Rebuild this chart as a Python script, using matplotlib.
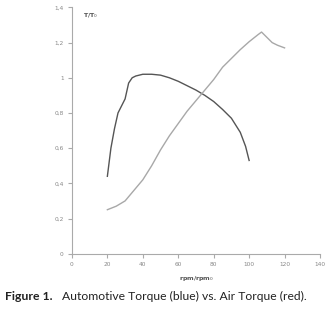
import matplotlib.pyplot as plt

# rpm / rpm0 vs T / T0
auto_rpm = [20, 22, 24, 26, 28, 30, 32, 34, 36, 40, 45, 50, 55, 60, 65, 70,
            75, 80, 85, 90, 95, 98, 100]
auto_torque = [0.44, 0.60, 0.71, 0.80, 0.84, 0.88, 0.97, 1.00, 1.01, 1.02,
               1.02, 1.015, 1.00, 0.98, 0.955, 0.93, 0.90, 0.865, 0.82, 0.77,
               0.69, 0.61, 0.53]

air_rpm = [20, 25, 30, 35, 40, 45, 50, 55, 60, 65, 70, 75, 80, 85, 90, 95,
           100, 105, 107, 110, 113, 116, 120]
air_torque = [0.25, 0.27, 0.30, 0.36, 0.42, 0.50, 0.59, 0.67, 0.74, 0.81,
              0.87, 0.93, 0.99, 1.06, 1.11, 1.16, 1.205, 1.245, 1.26, 1.23,
              1.20, 1.185, 1.17]

x_ticks = [0, 20, 40, 60, 80, 100, 120, 140]
y_ticks = [0, 0.2, 0.4, 0.6, 0.8, 1.0, 1.2, 1.4]
y_tick_labels = ["0", "0,2", "0,4", "0,6", "0,8", "1", "1,2", "1,4"]

caption_bold = "Figure 1."
caption_text = "Automotive Torque (blue) vs. Air Torque (red)."

fig = plt.figure(figsize=(3.33, 3.09), dpi=100)
ax = fig.add_axes([0.216, 0.179, 0.745, 0.797])

ax.plot(auto_rpm, auto_torque, color="#555555", linewidth=1.0)
ax.plot(air_rpm, air_torque, color="#a8a8a8", linewidth=1.0)

ax.set_xlim(0, 140)
ax.set_ylim(0, 1.4)
ax.set_xticks(x_ticks)
ax.set_yticks(y_ticks)
ax.set_yticklabels(y_tick_labels)

for side in ("top", "right"):
    ax.spines[side].set_visible(False)
for side in ("left", "bottom"):
    ax.spines[side].set_color("#aaaaaa")
    ax.spines[side].set_linewidth(0.8)
ax.tick_params(colors="#aaaaaa", length=3, width=0.8, labelsize=4.2,
               labelcolor="#888888", pad=3)

ax.text(0.045, 0.985, "T/T$_0$", transform=ax.transAxes, fontsize=4.5,
        fontweight="bold", color="#555555", va="top", ha="left")
ax.set_xlabel("rpm/rpm$_0$", fontsize=4.5, fontweight="bold",
              color="#555555", labelpad=5)

fig.text(0.015, 0.04, caption_bold, fontsize=8.8, fontweight="bold",
         family="Lato", color="#222222", va="center")
fig.text(0.186, 0.04, caption_text, fontsize=8.7, family="Lato",
         color="#222222", va="center")

fig.savefig("out.png", dpi=100)
